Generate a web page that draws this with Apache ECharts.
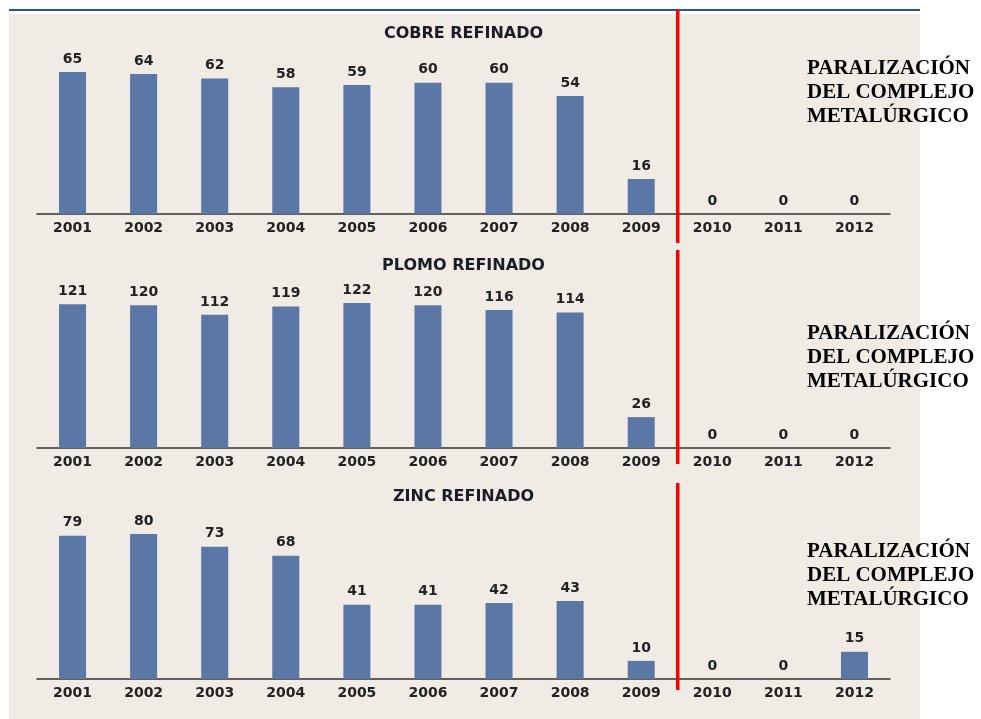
<!DOCTYPE html>
<html lang="es">
<head>
    <meta charset="UTF-8">
    <title>Producción refinada</title>
    <style>
        * { margin: 0; }
        html, body { background: #fff; }
        #chart { width: 981px; height: 719px; }
    </style>
</head>
<body>
    <div id="chart"></div>
    <script src="https://cdn.jsdelivr.net/npm/echarts@6/dist/echarts.min.js"></script>
    <script>
        var years = ['2001', '2002', '2003', '2004', '2005', '2006', '2007', '2008', '2009', '2010', '2011', '2012'];
        var cobre = [65, 64, 62, 58, 59, 60, 60, 54, 16, 0, 0, 0];
        var plomo = [121, 120, 112, 119, 122, 120, 116, 114, 26, 0, 0, 0];
        var zinc = [79, 80, 73, 68, 41, 41, 42, 43, 10, 0, 0, 15];
        var titles = ['COBRE REFINADO', 'PLOMO REFINADO', 'ZINC REFINADO'];
        var note = 'PARALIZACIÓN\nDEL COMPLEJO\nMETALÚRGICO';

        var seriesData = [cobre, plomo, zinc];
        // layout per panel: grid top, title top, y max, note top, red line span
        var gridTops = [54, 288, 519];
        var titleTops = [26, 258, 489];
        var yMax = [73.2, 134.6, 88.3];
        var noteTops = [57, 322, 540];
        var redSpan = [[10, 243], [250, 464], [483, 690]];
        var font = 'DejaVu Sans';

        var chart = echarts.init(document.getElementById('chart'));

        var option = {
            backgroundColor: '#ffffff',
            animation: false,
            title: [],
            grid: [],
            xAxis: [],
            yAxis: [],
            series: [],
            graphic: []
        };

        for (var i = 0; i < 3; i++) {
            option.title.push({
                text: titles[i],
                left: 463.5,
                top: titleTops[i],
                textAlign: 'center',
                padding: 0,
                textStyle: { fontFamily: font, fontWeight: 'bold', fontSize: 16, color: '#1c1c24' }
            });
            option.grid.push({ left: 37, right: 91, top: gridTops[i], height: 160 });
            option.xAxis.push({
                type: 'category',
                gridIndex: i,
                data: years,
                axisLine: { lineStyle: { color: '#333', width: 1.5 } },
                axisTick: { length: 3, lineStyle: { color: '#222', width: 2 } },
                axisLabel: { fontFamily: font, fontWeight: 'bold', fontSize: 14, color: '#222', margin: 7 }
            });
            option.yAxis.push({
                type: 'value',
                gridIndex: i,
                min: 0,
                max: yMax[i],
                show: false,
                splitLine: { show: false }
            });
            option.series.push({
                type: 'bar',
                xAxisIndex: i,
                yAxisIndex: i,
                data: seriesData[i],
                barWidth: '38%',
                itemStyle: { color: '#5b77a6' },
                label: {
                    show: true,
                    position: 'top',
                    distance: 6,
                    fontFamily: font,
                    fontWeight: 'bold',
                    fontSize: 14,
                    color: '#222'
                }
            });
        }

        chart.setOption(option);

        // background panel, top rule, red divider lines and notes
        var graphics = [
            { type: 'rect', z: -10, shape: { x: 9, y: 14, width: 911, height: 705 }, style: { fill: '#f0ebe5' } },
            { type: 'rect', z: 10, shape: { x: 9, y: 9, width: 911, height: 2 }, style: { fill: '#2f5490' } }
        ];
        for (var k = 0; k < 3; k++) {
            var xa = chart.convertToPixel({ xAxisIndex: k }, years[8]);
            var xb = chart.convertToPixel({ xAxisIndex: k }, years[9]);
            var xm = (xa + xb) / 2 + 1;
            graphics.push({
                type: 'line',
                z: 100,
                shape: { x1: xm, y1: redSpan[k][0], x2: xm, y2: redSpan[k][1] },
                style: { stroke: '#ff0000', lineWidth: 3.5 }
            });
            graphics.push({
                type: 'text',
                z: 100,
                x: 807,
                y: noteTops[k],
                style: {
                    text: note,
                    font: 'bold 21px "Liberation Serif"',
                    fill: '#000',
                    lineHeight: 24,
                    textVerticalAlign: 'top'
                }
            });
        }
        chart.setOption({ graphic: graphics });
    </script>
</body>
</html>
